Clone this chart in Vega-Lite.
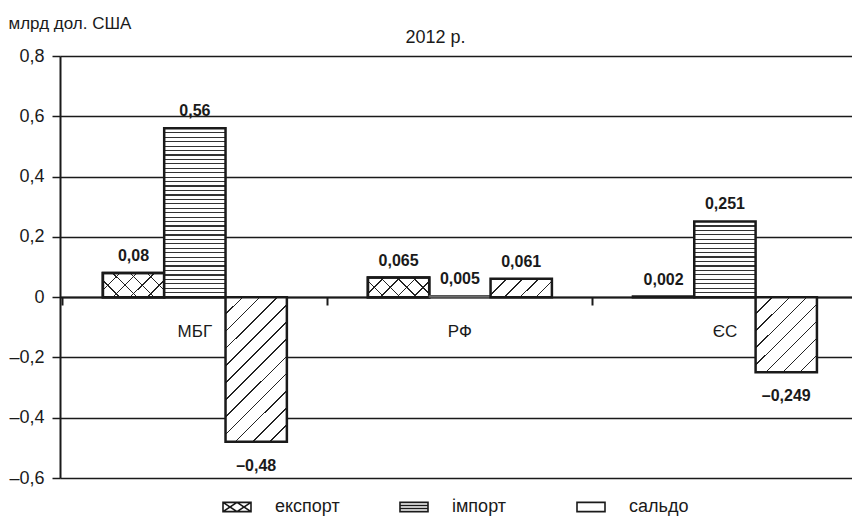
{
  "$schema": "https://vega.github.io/schema/vega-lite/v6.json",
  "width": 792,
  "height": 422,
  "autosize": {"type": "none"},
  "padding": {"left": 60, "top": 56, "right": 0, "bottom": 42},
  "background": "#ffffff",
  "config": {
    "view": {"stroke": null},
    "font": "Liberation Sans",
    "locale": {"number": {"decimal": ",", "thousands": " ", "grouping": [3], "currency": ["", ""], "minus": "–"}},
    "axis": {"labelFont": "Liberation Sans", "titleFont": "Liberation Sans"},
    "legend": {"labelFont": "Liberation Sans"}
  },
  "data": {
    "values": [
      {"region": "МБГ", "series": "експорт", "value": 0.08},
      {"region": "МБГ", "series": "імпорт", "value": 0.56},
      {"region": "МБГ", "series": "сальдо", "value": -0.48},
      {"region": "РФ", "series": "експорт", "value": 0.065},
      {"region": "РФ", "series": "імпорт", "value": 0.005},
      {"region": "РФ", "series": "сальдо", "value": 0.061},
      {"region": "ЄС", "series": "експорт", "value": 0.002},
      {"region": "ЄС", "series": "імпорт", "value": 0.251},
      {"region": "ЄС", "series": "сальдо", "value": -0.249}
    ]
  },
  "encoding": {
    "x": {
      "field": "region",
      "type": "nominal",
      "scale": {"domain": ["МБГ", "РФ", "ЄС"], "paddingInner": 0.3057, "paddingOuter": 0.147, "align": 0.55},
      "axis": {
        "title": "2012 р.",
        "titleX": 375,
        "titleY": -255,
        "titleAlign": "center",
        "titleBaseline": "alphabetic",
        "titleFontSize": 18,
        "titleFontWeight": "normal",
        "titleColor": "#1a1a1a",
        "labels": false,
        "offset": -181,
        "domainColor": "#1a1a1a",
        "domainWidth": 2,
        "tickColor": "#1a1a1a",
        "tickWidth": 2,
        "tickSize": 8,
        "bandPosition": -0.22,
        "grid": false
      }
    },
    "xOffset": {
      "field": "series",
      "type": "nominal",
      "scale": {"domain": ["експорт", "імпорт", "сальдо"], "paddingInner": 0, "paddingOuter": 0}
    },
    "y": {
      "field": "value",
      "type": "quantitative",
      "scale": {"domain": [-0.6, 0.8], "nice": false, "zero": true},
      "axis": {
        "title": "млрд дол. США",
        "titleAngle": 0,
        "titleAlign": "left",
        "titleBaseline": "alphabetic",
        "titleX": -52,
        "titleY": -28,
        "titleFontSize": 17,
        "titleFontWeight": "normal",
        "titleColor": "#1a1a1a",
        "values": [-0.6, -0.4, -0.2, 0, 0.2, 0.4, 0.6, 0.8],
        "format": ".1~f",
        "grid": true,
        "gridColor": "#1a1a1a",
        "gridWidth": 1.5,
        "domainColor": "#1a1a1a",
        "domainWidth": 2,
        "tickColor": "#1a1a1a",
        "tickSize": 8,
        "tickWidth": 1.5,
        "labelFontSize": 18,
        "labelPadding": 8,
        "labelColor": "#1a1a1a"
      }
    }
  },
  "layer": [
    {
      "encoding": {
        "stroke": {
          "field": "series",
          "type": "nominal",
          "scale": {"domain": ["експорт", "імпорт", "сальдо"], "range": ["#1a1a1a", "#1a1a1a", "#1a1a1a"]},
          "legend": {
            "title": null,
            "orient": "none",
            "legendX": 162,
            "legendY": 436,
            "direction": "horizontal",
            "padding": 0,
            "gridAlign": "all",
            "columnPadding": 56,
            "symbolSize": 784,
            "symbolType": {"expr": "datum.value === 'експорт' ? 'M-1,-0.33H1V0.33H-1Z M-1,-0.33L0,0.33 M0,-0.33L-1,0.33 M0,-0.33L1,0.33 M1,-0.33L0,0.33' : datum.value === 'імпорт' ? 'M-1,-0.33H1V0.33H-1Z M-1,-0.11H1 M-1,0.11H1' : 'M-1,-0.33H1V0.33H-1Z'"},
            "symbolFillColor": "#ffffff",
            "symbolStrokeColor": "#1a1a1a",
            "symbolStrokeWidth": 1.6,
            "labelFontSize": 18,
            "labelOffset": 23,
            "labelColor": "#1a1a1a"
          }
        }
      },
      "layer": [
        {
          "transform": [{"filter": "datum.region === 'ЄС' && datum.series === 'експорт'"}],
          "mark": {"type": "bar", "strokeWidth": 2.5, "fill": "#ffffff"}
        },
        {
          "transform": [{"filter": "datum.region === 'МБГ' && datum.series === 'експорт'"}],
          "mark": {"type": "bar", "strokeWidth": 2.5, "fill": {
            "gradient": "linear", "x1": 0, "y1": 0, "x2": 1.2067, "y2": 0.4764,
            "stops": [
              {"offset": 0, "color": "#ffffff"},
              {"offset": 0.19, "color": "#ffffff"}, {"offset": 0.19, "color": "#222222"}, {"offset": 0.21, "color": "#222222"}, {"offset": 0.21, "color": "#ffffff"},
              {"offset": 0.39, "color": "#ffffff"}, {"offset": 0.39, "color": "#222222"}, {"offset": 0.41, "color": "#222222"}, {"offset": 0.41, "color": "#ffffff"},
              {"offset": 0.59, "color": "#ffffff"}, {"offset": 0.59, "color": "#222222"}, {"offset": 0.61, "color": "#222222"}, {"offset": 0.61, "color": "#ffffff"},
              {"offset": 0.79, "color": "#ffffff"}, {"offset": 0.79, "color": "#222222"}, {"offset": 0.81, "color": "#222222"}, {"offset": 0.81, "color": "#ffffff"},
              {"offset": 1, "color": "#ffffff"}
            ]}}
        },
        {
          "transform": [{"filter": "datum.region === 'МБГ' && datum.series === 'експорт'"}],
          "mark": {"type": "bar", "strokeWidth": 2.5, "fill": {
            "gradient": "linear", "x1": 0, "y1": 1, "x2": 1.2067, "y2": 0.5236,
            "stops": [
              {"offset": 0, "color": "rgba(255,255,255,0)"},
              {"offset": 0.19, "color": "rgba(255,255,255,0)"}, {"offset": 0.19, "color": "#222222"}, {"offset": 0.21, "color": "#222222"}, {"offset": 0.21, "color": "rgba(255,255,255,0)"},
              {"offset": 0.39, "color": "rgba(255,255,255,0)"}, {"offset": 0.39, "color": "#222222"}, {"offset": 0.41, "color": "#222222"}, {"offset": 0.41, "color": "rgba(255,255,255,0)"},
              {"offset": 0.59, "color": "rgba(255,255,255,0)"}, {"offset": 0.59, "color": "#222222"}, {"offset": 0.61, "color": "#222222"}, {"offset": 0.61, "color": "rgba(255,255,255,0)"},
              {"offset": 0.79, "color": "rgba(255,255,255,0)"}, {"offset": 0.79, "color": "#222222"}, {"offset": 0.81, "color": "#222222"}, {"offset": 0.81, "color": "rgba(255,255,255,0)"},
              {"offset": 1, "color": "rgba(255,255,255,0)"}
            ]}}
        },
        {
          "transform": [{"filter": "datum.region === 'РФ' && datum.series === 'експорт'"}],
          "mark": {"type": "bar", "strokeWidth": 2.5, "fill": {
            "gradient": "linear", "x1": 0, "y1": 0, "x2": 1.1976, "y2": 0.3842,
            "stops": [
              {"offset": 0, "color": "#ffffff"},
              {"offset": 0.1895, "color": "#ffffff"}, {"offset": 0.1895, "color": "#222222"}, {"offset": 0.2105, "color": "#222222"}, {"offset": 0.2105, "color": "#ffffff"},
              {"offset": 0.3895, "color": "#ffffff"}, {"offset": 0.3895, "color": "#222222"}, {"offset": 0.4105, "color": "#222222"}, {"offset": 0.4105, "color": "#ffffff"},
              {"offset": 0.5895, "color": "#ffffff"}, {"offset": 0.5895, "color": "#222222"}, {"offset": 0.6105, "color": "#222222"}, {"offset": 0.6105, "color": "#ffffff"},
              {"offset": 0.7895, "color": "#ffffff"}, {"offset": 0.7895, "color": "#222222"}, {"offset": 0.8105, "color": "#222222"}, {"offset": 0.8105, "color": "#ffffff"},
              {"offset": 1, "color": "#ffffff"}
            ]}}
        },
        {
          "transform": [{"filter": "datum.region === 'РФ' && datum.series === 'експорт'"}],
          "mark": {"type": "bar", "strokeWidth": 2.5, "fill": {
            "gradient": "linear", "x1": 0, "y1": 1, "x2": 1.1976, "y2": 0.6158,
            "stops": [
              {"offset": 0, "color": "rgba(255,255,255,0)"},
              {"offset": 0.1895, "color": "rgba(255,255,255,0)"}, {"offset": 0.1895, "color": "#222222"}, {"offset": 0.2105, "color": "#222222"}, {"offset": 0.2105, "color": "rgba(255,255,255,0)"},
              {"offset": 0.3895, "color": "rgba(255,255,255,0)"}, {"offset": 0.3895, "color": "#222222"}, {"offset": 0.4105, "color": "#222222"}, {"offset": 0.4105, "color": "rgba(255,255,255,0)"},
              {"offset": 0.5895, "color": "rgba(255,255,255,0)"}, {"offset": 0.5895, "color": "#222222"}, {"offset": 0.6105, "color": "#222222"}, {"offset": 0.6105, "color": "rgba(255,255,255,0)"},
              {"offset": 0.7895, "color": "rgba(255,255,255,0)"}, {"offset": 0.7895, "color": "#222222"}, {"offset": 0.8105, "color": "#222222"}, {"offset": 0.8105, "color": "rgba(255,255,255,0)"},
              {"offset": 1, "color": "rgba(255,255,255,0)"}
            ]}}
        },
        {
          "transform": [{"filter": "datum.region === 'МБГ' && datum.series === 'імпорт'"}],
          "mark": {"type": "bar", "strokeWidth": 2.5, "fill": {
            "gradient": "linear", "x1": 0, "y1": 0, "x2": 0, "y2": 1,
            "stops": [
              {"offset": 0, "color": "#ffffff"},
              {"offset": 0.0227, "color": "#ffffff"}, {"offset": 0.0227, "color": "#333333"}, {"offset": 0.0299, "color": "#333333"}, {"offset": 0.0299, "color": "#ffffff"},
              {"offset": 0.0490, "color": "#ffffff"}, {"offset": 0.0490, "color": "#333333"}, {"offset": 0.0562, "color": "#333333"}, {"offset": 0.0562, "color": "#ffffff"},
              {"offset": 0.0753, "color": "#ffffff"}, {"offset": 0.0753, "color": "#333333"}, {"offset": 0.0825, "color": "#333333"}, {"offset": 0.0825, "color": "#ffffff"},
              {"offset": 0.1017, "color": "#ffffff"}, {"offset": 0.1017, "color": "#333333"}, {"offset": 0.1089, "color": "#333333"}, {"offset": 0.1089, "color": "#ffffff"},
              {"offset": 0.1280, "color": "#ffffff"}, {"offset": 0.1280, "color": "#333333"}, {"offset": 0.1352, "color": "#333333"}, {"offset": 0.1352, "color": "#ffffff"},
              {"offset": 0.1543, "color": "#ffffff"}, {"offset": 0.1543, "color": "#333333"}, {"offset": 0.1615, "color": "#333333"}, {"offset": 0.1615, "color": "#ffffff"},
              {"offset": 0.1806, "color": "#ffffff"}, {"offset": 0.1806, "color": "#333333"}, {"offset": 0.1878, "color": "#333333"}, {"offset": 0.1878, "color": "#ffffff"},
              {"offset": 0.2069, "color": "#ffffff"}, {"offset": 0.2069, "color": "#333333"}, {"offset": 0.2141, "color": "#333333"}, {"offset": 0.2141, "color": "#ffffff"},
              {"offset": 0.2332, "color": "#ffffff"}, {"offset": 0.2332, "color": "#333333"}, {"offset": 0.2404, "color": "#333333"}, {"offset": 0.2404, "color": "#ffffff"},
              {"offset": 0.2596, "color": "#ffffff"}, {"offset": 0.2596, "color": "#333333"}, {"offset": 0.2668, "color": "#333333"}, {"offset": 0.2668, "color": "#ffffff"},
              {"offset": 0.2859, "color": "#ffffff"}, {"offset": 0.2859, "color": "#333333"}, {"offset": 0.2931, "color": "#333333"}, {"offset": 0.2931, "color": "#ffffff"},
              {"offset": 0.3122, "color": "#ffffff"}, {"offset": 0.3122, "color": "#333333"}, {"offset": 0.3194, "color": "#333333"}, {"offset": 0.3194, "color": "#ffffff"},
              {"offset": 0.3385, "color": "#ffffff"}, {"offset": 0.3385, "color": "#333333"}, {"offset": 0.3457, "color": "#333333"}, {"offset": 0.3457, "color": "#ffffff"},
              {"offset": 0.3648, "color": "#ffffff"}, {"offset": 0.3648, "color": "#333333"}, {"offset": 0.3720, "color": "#333333"}, {"offset": 0.3720, "color": "#ffffff"},
              {"offset": 0.3911, "color": "#ffffff"}, {"offset": 0.3911, "color": "#333333"}, {"offset": 0.3983, "color": "#333333"}, {"offset": 0.3983, "color": "#ffffff"},
              {"offset": 0.4175, "color": "#ffffff"}, {"offset": 0.4175, "color": "#333333"}, {"offset": 0.4247, "color": "#333333"}, {"offset": 0.4247, "color": "#ffffff"},
              {"offset": 0.4438, "color": "#ffffff"}, {"offset": 0.4438, "color": "#333333"}, {"offset": 0.4510, "color": "#333333"}, {"offset": 0.4510, "color": "#ffffff"},
              {"offset": 0.4701, "color": "#ffffff"}, {"offset": 0.4701, "color": "#333333"}, {"offset": 0.4773, "color": "#333333"}, {"offset": 0.4773, "color": "#ffffff"},
              {"offset": 0.4964, "color": "#ffffff"}, {"offset": 0.4964, "color": "#333333"}, {"offset": 0.5036, "color": "#333333"}, {"offset": 0.5036, "color": "#ffffff"},
              {"offset": 0.5227, "color": "#ffffff"}, {"offset": 0.5227, "color": "#333333"}, {"offset": 0.5299, "color": "#333333"}, {"offset": 0.5299, "color": "#ffffff"},
              {"offset": 0.5490, "color": "#ffffff"}, {"offset": 0.5490, "color": "#333333"}, {"offset": 0.5562, "color": "#333333"}, {"offset": 0.5562, "color": "#ffffff"},
              {"offset": 0.5753, "color": "#ffffff"}, {"offset": 0.5753, "color": "#333333"}, {"offset": 0.5825, "color": "#333333"}, {"offset": 0.5825, "color": "#ffffff"},
              {"offset": 0.6017, "color": "#ffffff"}, {"offset": 0.6017, "color": "#333333"}, {"offset": 0.6089, "color": "#333333"}, {"offset": 0.6089, "color": "#ffffff"},
              {"offset": 0.6280, "color": "#ffffff"}, {"offset": 0.6280, "color": "#333333"}, {"offset": 0.6352, "color": "#333333"}, {"offset": 0.6352, "color": "#ffffff"},
              {"offset": 0.6543, "color": "#ffffff"}, {"offset": 0.6543, "color": "#333333"}, {"offset": 0.6615, "color": "#333333"}, {"offset": 0.6615, "color": "#ffffff"},
              {"offset": 0.6806, "color": "#ffffff"}, {"offset": 0.6806, "color": "#333333"}, {"offset": 0.6878, "color": "#333333"}, {"offset": 0.6878, "color": "#ffffff"},
              {"offset": 0.7069, "color": "#ffffff"}, {"offset": 0.7069, "color": "#333333"}, {"offset": 0.7141, "color": "#333333"}, {"offset": 0.7141, "color": "#ffffff"},
              {"offset": 0.7332, "color": "#ffffff"}, {"offset": 0.7332, "color": "#333333"}, {"offset": 0.7404, "color": "#333333"}, {"offset": 0.7404, "color": "#ffffff"},
              {"offset": 0.7596, "color": "#ffffff"}, {"offset": 0.7596, "color": "#333333"}, {"offset": 0.7668, "color": "#333333"}, {"offset": 0.7668, "color": "#ffffff"},
              {"offset": 0.7859, "color": "#ffffff"}, {"offset": 0.7859, "color": "#333333"}, {"offset": 0.7931, "color": "#333333"}, {"offset": 0.7931, "color": "#ffffff"},
              {"offset": 0.8122, "color": "#ffffff"}, {"offset": 0.8122, "color": "#333333"}, {"offset": 0.8194, "color": "#333333"}, {"offset": 0.8194, "color": "#ffffff"},
              {"offset": 0.8385, "color": "#ffffff"}, {"offset": 0.8385, "color": "#333333"}, {"offset": 0.8457, "color": "#333333"}, {"offset": 0.8457, "color": "#ffffff"},
              {"offset": 0.8648, "color": "#ffffff"}, {"offset": 0.8648, "color": "#333333"}, {"offset": 0.8720, "color": "#333333"}, {"offset": 0.8720, "color": "#ffffff"},
              {"offset": 0.8911, "color": "#ffffff"}, {"offset": 0.8911, "color": "#333333"}, {"offset": 0.8983, "color": "#333333"}, {"offset": 0.8983, "color": "#ffffff"},
              {"offset": 0.9175, "color": "#ffffff"}, {"offset": 0.9175, "color": "#333333"}, {"offset": 0.9247, "color": "#333333"}, {"offset": 0.9247, "color": "#ffffff"},
              {"offset": 0.9438, "color": "#ffffff"}, {"offset": 0.9438, "color": "#333333"}, {"offset": 0.9510, "color": "#333333"}, {"offset": 0.9510, "color": "#ffffff"},
              {"offset": 0.9701, "color": "#ffffff"}, {"offset": 0.9701, "color": "#333333"}, {"offset": 0.9773, "color": "#333333"}, {"offset": 0.9773, "color": "#ffffff"},
              {"offset": 1, "color": "#ffffff"}
            ]}}
        },
        {
          "transform": [{"filter": "datum.region === 'РФ' && datum.series === 'імпорт'"}],
          "mark": {"type": "bar", "strokeWidth": 1.2, "fill": "#bbbbbb"},
          "encoding": {"stroke": {"value": "#555555"}}
        },
        {
          "transform": [{"filter": "datum.region === 'ЄС' && datum.series === 'імпорт'"}],
          "mark": {"type": "bar", "strokeWidth": 2.5, "fill": {
            "gradient": "linear", "x1": 0, "y1": 0, "x2": 0, "y2": 1,
            "stops": [
              {"offset": 0, "color": "#ffffff"},
              {"offset": 0.0509, "color": "#ffffff"}, {"offset": 0.0509, "color": "#333333"}, {"offset": 0.0667, "color": "#333333"}, {"offset": 0.0667, "color": "#ffffff"},
              {"offset": 0.1097, "color": "#ffffff"}, {"offset": 0.1097, "color": "#333333"}, {"offset": 0.1255, "color": "#333333"}, {"offset": 0.1255, "color": "#ffffff"},
              {"offset": 0.1686, "color": "#ffffff"}, {"offset": 0.1686, "color": "#333333"}, {"offset": 0.1844, "color": "#333333"}, {"offset": 0.1844, "color": "#ffffff"},
              {"offset": 0.2274, "color": "#ffffff"}, {"offset": 0.2274, "color": "#333333"}, {"offset": 0.2432, "color": "#333333"}, {"offset": 0.2432, "color": "#ffffff"},
              {"offset": 0.2862, "color": "#ffffff"}, {"offset": 0.2862, "color": "#333333"}, {"offset": 0.3020, "color": "#333333"}, {"offset": 0.3020, "color": "#ffffff"},
              {"offset": 0.3450, "color": "#ffffff"}, {"offset": 0.3450, "color": "#333333"}, {"offset": 0.3608, "color": "#333333"}, {"offset": 0.3608, "color": "#ffffff"},
              {"offset": 0.4039, "color": "#ffffff"}, {"offset": 0.4039, "color": "#333333"}, {"offset": 0.4197, "color": "#333333"}, {"offset": 0.4197, "color": "#ffffff"},
              {"offset": 0.4627, "color": "#ffffff"}, {"offset": 0.4627, "color": "#333333"}, {"offset": 0.4785, "color": "#333333"}, {"offset": 0.4785, "color": "#ffffff"},
              {"offset": 0.5215, "color": "#ffffff"}, {"offset": 0.5215, "color": "#333333"}, {"offset": 0.5373, "color": "#333333"}, {"offset": 0.5373, "color": "#ffffff"},
              {"offset": 0.5803, "color": "#ffffff"}, {"offset": 0.5803, "color": "#333333"}, {"offset": 0.5961, "color": "#333333"}, {"offset": 0.5961, "color": "#ffffff"},
              {"offset": 0.6392, "color": "#ffffff"}, {"offset": 0.6392, "color": "#333333"}, {"offset": 0.6550, "color": "#333333"}, {"offset": 0.6550, "color": "#ffffff"},
              {"offset": 0.6980, "color": "#ffffff"}, {"offset": 0.6980, "color": "#333333"}, {"offset": 0.7138, "color": "#333333"}, {"offset": 0.7138, "color": "#ffffff"},
              {"offset": 0.7568, "color": "#ffffff"}, {"offset": 0.7568, "color": "#333333"}, {"offset": 0.7726, "color": "#333333"}, {"offset": 0.7726, "color": "#ffffff"},
              {"offset": 0.8156, "color": "#ffffff"}, {"offset": 0.8156, "color": "#333333"}, {"offset": 0.8314, "color": "#333333"}, {"offset": 0.8314, "color": "#ffffff"},
              {"offset": 0.8745, "color": "#ffffff"}, {"offset": 0.8745, "color": "#333333"}, {"offset": 0.8903, "color": "#333333"}, {"offset": 0.8903, "color": "#ffffff"},
              {"offset": 0.9333, "color": "#ffffff"}, {"offset": 0.9333, "color": "#333333"}, {"offset": 0.9491, "color": "#333333"}, {"offset": 0.9491, "color": "#ffffff"},
              {"offset": 1, "color": "#ffffff"}
            ]}}
        },
        {
          "transform": [{"filter": "datum.region === 'МБГ' && datum.series === 'сальдо'"}],
          "mark": {"type": "bar", "strokeWidth": 2.5, "fill": {
            "gradient": "linear", "x1": 0, "y1": 0, "x2": 0.5094, "y2": 1.2070,
            "stops": [
              {"offset": 0, "color": "#ffffff"},
              {"offset": 0.0792, "color": "#ffffff"}, {"offset": 0.0792, "color": "#222222"}, {"offset": 0.0874, "color": "#222222"}, {"offset": 0.0874, "color": "#ffffff"},
              {"offset": 0.1626, "color": "#ffffff"}, {"offset": 0.1626, "color": "#222222"}, {"offset": 0.1708, "color": "#222222"}, {"offset": 0.1708, "color": "#ffffff"},
              {"offset": 0.2459, "color": "#ffffff"}, {"offset": 0.2459, "color": "#222222"}, {"offset": 0.2541, "color": "#222222"}, {"offset": 0.2541, "color": "#ffffff"},
              {"offset": 0.3292, "color": "#ffffff"}, {"offset": 0.3292, "color": "#222222"}, {"offset": 0.3374, "color": "#222222"}, {"offset": 0.3374, "color": "#ffffff"},
              {"offset": 0.4126, "color": "#ffffff"}, {"offset": 0.4126, "color": "#222222"}, {"offset": 0.4208, "color": "#222222"}, {"offset": 0.4208, "color": "#ffffff"},
              {"offset": 0.4959, "color": "#ffffff"}, {"offset": 0.4959, "color": "#222222"}, {"offset": 0.5041, "color": "#222222"}, {"offset": 0.5041, "color": "#ffffff"},
              {"offset": 0.5792, "color": "#ffffff"}, {"offset": 0.5792, "color": "#222222"}, {"offset": 0.5874, "color": "#222222"}, {"offset": 0.5874, "color": "#ffffff"},
              {"offset": 0.6626, "color": "#ffffff"}, {"offset": 0.6626, "color": "#222222"}, {"offset": 0.6708, "color": "#222222"}, {"offset": 0.6708, "color": "#ffffff"},
              {"offset": 0.7459, "color": "#ffffff"}, {"offset": 0.7459, "color": "#222222"}, {"offset": 0.7541, "color": "#222222"}, {"offset": 0.7541, "color": "#ffffff"},
              {"offset": 0.8292, "color": "#ffffff"}, {"offset": 0.8292, "color": "#222222"}, {"offset": 0.8374, "color": "#222222"}, {"offset": 0.8374, "color": "#ffffff"},
              {"offset": 0.9126, "color": "#ffffff"}, {"offset": 0.9126, "color": "#222222"}, {"offset": 0.9208, "color": "#222222"}, {"offset": 0.9208, "color": "#ffffff"},
              {"offset": 1, "color": "#ffffff"}
            ]}}
        },
        {
          "transform": [{"filter": "datum.region === 'РФ' && datum.series === 'сальдо'"}],
          "mark": {"type": "bar", "strokeWidth": 2.5, "fill": {
            "gradient": "linear", "x1": 0, "y1": 0, "x2": 1.1929, "y2": 0.3592,
            "stops": [
              {"offset": 0, "color": "#ffffff"},
              {"offset": 0.1893, "color": "#ffffff"}, {"offset": 0.1893, "color": "#222222"}, {"offset": 0.2107, "color": "#222222"}, {"offset": 0.2107, "color": "#ffffff"},
              {"offset": 0.3893, "color": "#ffffff"}, {"offset": 0.3893, "color": "#222222"}, {"offset": 0.4107, "color": "#222222"}, {"offset": 0.4107, "color": "#ffffff"},
              {"offset": 0.5893, "color": "#ffffff"}, {"offset": 0.5893, "color": "#222222"}, {"offset": 0.6107, "color": "#222222"}, {"offset": 0.6107, "color": "#ffffff"},
              {"offset": 0.7893, "color": "#ffffff"}, {"offset": 0.7893, "color": "#222222"}, {"offset": 0.8107, "color": "#222222"}, {"offset": 0.8107, "color": "#ffffff"},
              {"offset": 1, "color": "#ffffff"}
            ]}}
        },
        {
          "transform": [{"filter": "datum.region === 'ЄС' && datum.series === 'сальдо'"}],
          "mark": {"type": "bar", "strokeWidth": 2.5, "fill": {
            "gradient": "linear", "x1": 0, "y1": 0, "x2": 0.8879, "y2": 1.0912,
            "stops": [
              {"offset": 0, "color": "#ffffff"},
              {"offset": 0.1188, "color": "#ffffff"}, {"offset": 0.1188, "color": "#222222"}, {"offset": 0.1312, "color": "#222222"}, {"offset": 0.1312, "color": "#ffffff"},
              {"offset": 0.2438, "color": "#ffffff"}, {"offset": 0.2438, "color": "#222222"}, {"offset": 0.2562, "color": "#222222"}, {"offset": 0.2562, "color": "#ffffff"},
              {"offset": 0.3688, "color": "#ffffff"}, {"offset": 0.3688, "color": "#222222"}, {"offset": 0.3812, "color": "#222222"}, {"offset": 0.3812, "color": "#ffffff"},
              {"offset": 0.4938, "color": "#ffffff"}, {"offset": 0.4938, "color": "#222222"}, {"offset": 0.5062, "color": "#222222"}, {"offset": 0.5062, "color": "#ffffff"},
              {"offset": 0.6188, "color": "#ffffff"}, {"offset": 0.6188, "color": "#222222"}, {"offset": 0.6312, "color": "#222222"}, {"offset": 0.6312, "color": "#ffffff"},
              {"offset": 0.7438, "color": "#ffffff"}, {"offset": 0.7438, "color": "#222222"}, {"offset": 0.7562, "color": "#222222"}, {"offset": 0.7562, "color": "#ffffff"},
              {"offset": 0.8688, "color": "#ffffff"}, {"offset": 0.8688, "color": "#222222"}, {"offset": 0.8812, "color": "#222222"}, {"offset": 0.8812, "color": "#ffffff"},
              {"offset": 1, "color": "#ffffff"}
            ]}}
        }
      ]
    },
    {
      "transform": [{"filter": "datum.value > 0"}],
      "mark": {"type": "text", "baseline": "alphabetic", "dy": -12, "fontSize": 16, "fontWeight": "bold", "color": "#1a1a1a"},
      "encoding": {"text": {"field": "value", "type": "quantitative", "format": ".3~f"}}
    },
    {
      "transform": [{"filter": "datum.value < 0"}],
      "mark": {"type": "text", "baseline": "top", "dy": 16, "fontSize": 16, "fontWeight": "bold", "color": "#1a1a1a"},
      "encoding": {"text": {"field": "value", "type": "quantitative", "format": ".3~f"}}
    },
    {
      "transform": [{"filter": "datum.series === 'імпорт'"}],
      "mark": {"type": "text", "baseline": "middle", "fontSize": 17, "color": "#1a1a1a"},
      "encoding": {
        "y": {"datum": -0.116},
        "text": {"field": "region", "type": "nominal"}
      }
    }
  ]
}
